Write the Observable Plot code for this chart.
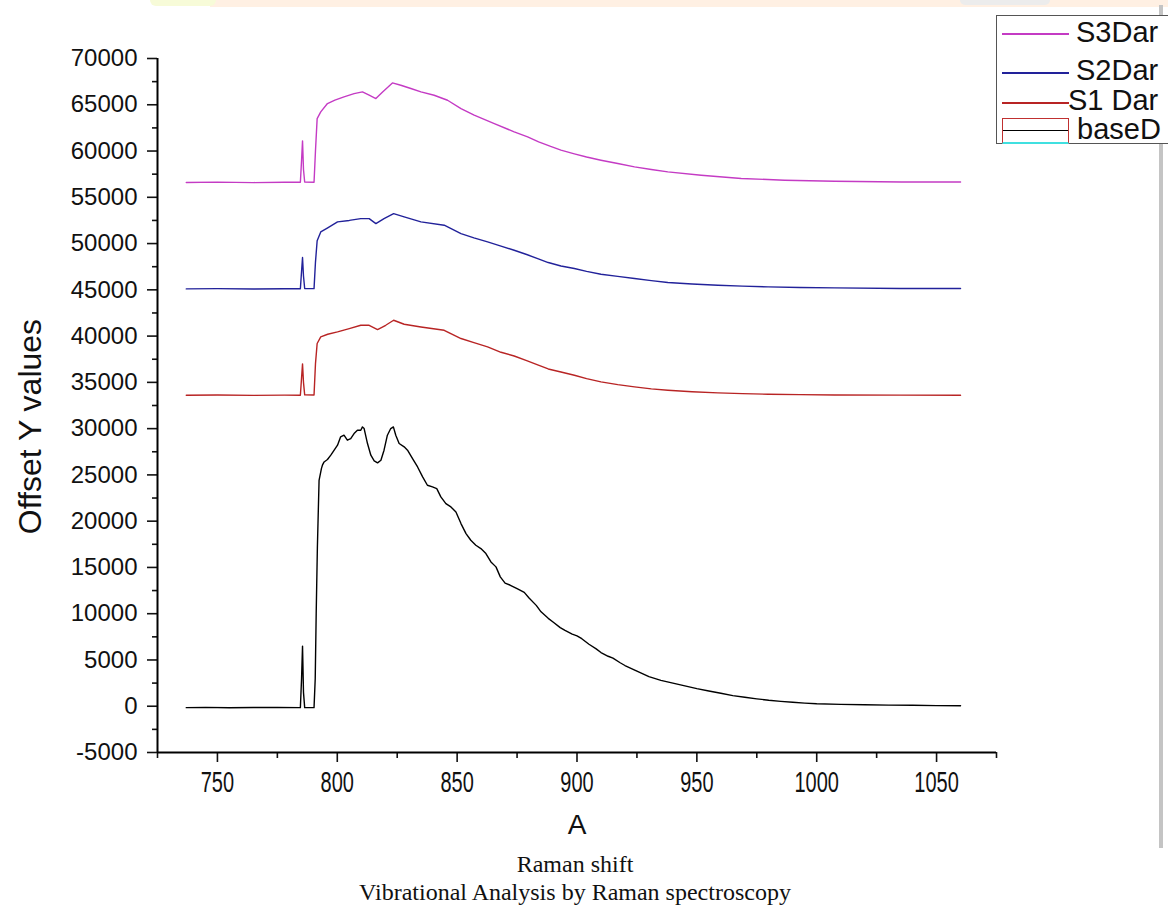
<!DOCTYPE html>
<html>
<head>
<meta charset="utf-8">
<script src="https://cdn.jsdelivr.net/npm/d3@7"></script>
<script src="https://cdn.jsdelivr.net/npm/@observablehq/plot@0.6"></script>
<style>
  html, body { margin: 0; padding: 0; background: #fff; overflow: hidden; }
  #wrap { position: relative; width: 1168px; height: 912px; overflow: hidden; background: #fff; }
  #chart { position: absolute; left: 0; top: 0; }
  #topband { position: absolute; left: 210px; top: 0; width: 958px; height: 7px; background: #fff0e3; }
  #topblob { position: absolute; left: 150px; top: 0; width: 66px; height: 6px; background: #f7fbd8; border-radius: 0 0 30px 30px; }
  #topgray { position: absolute; left: 960px; top: 0; width: 90px; height: 5px; background: #ececec; border-radius: 0 0 40px 40px; }
  #sidebar { position: absolute; left: 1159px; top: 5px; width: 4px; height: 843px; background: #c4c4c4; }
  #legend { position: absolute; left: 996px; top: 15px; width: 200px; height: 127px; border-left: 1px solid #555; border-top: 1px solid #555; border-bottom: 1px solid #555; background: #fff; font-family: "Liberation Sans", Arial, sans-serif; font-size: 29px; color: #111; }
  .lline { position: absolute; left: 5px; width: 67px; height: 1.5px; }
  .ltext { position: absolute; white-space: nowrap; line-height: 29px; }
  #captions { position: absolute; left: 0; top: 850px; width: 1150px; text-align: center; font-family: "Liberation Serif", "DejaVu Serif", serif; font-size: 24px; line-height: 28px; color: #111; }
</style>
</head>
<body>
<div id="wrap">
  <div id="topband"></div>
  <div id="topblob"></div>
  <div id="topgray"></div>
  <div id="sidebar"></div>
  <div id="chart"></div>
  <div id="legend"></div>
  <div id="captions"><div>Raman shift</div><div>Vibrational Analysis by Raman spectroscopy</div></div>
</div>
<script>
// ---- Data ----
const seriesNames = ["S3Dar", "S2Dar", "S1 Dar", "baseD"];
const seriesColors = ["#c43bc4", "#22229a", "#b82424", "#000000"];

const baseX = [737, 745, 755, 765, 775, 784.6, 785.1, 785.5, 785.9, 786.4, 790.3, 790.8, 791.2, 791.7, 792.4, 793.4, 793.8, 794.5, 795.9, 797.3, 798.7, 800.1, 801.4, 802.8, 804.2, 805.6, 807.0, 808.4, 809.8, 810.5, 811.2, 812.6, 814.0, 815.4, 816.8, 818.2, 819.5, 820.9, 822.3, 823.4, 824.4, 825.8, 827.9, 829.3, 831.4, 833.5, 835.6, 837.6, 839.7, 841.5, 843.2, 845.3, 847.4, 849.5, 851.6, 853.7, 855.7, 857.8, 859.9, 862.0, 864.1, 866.2, 868.0, 870, 872, 875, 878, 880, 883, 885, 888, 890, 893, 895, 898, 900, 902, 905, 908, 910, 913, 915, 918, 920, 925, 930, 935, 940, 945, 950, 955, 960, 965, 970, 975, 980, 985, 990, 995, 1000, 1010, 1020, 1030, 1040, 1050, 1060];
const baseY = [-150, -120, -160, -130, -140, -150, 3000, 6500, 1500, -150, -150, 3000, 10000, 17200, 24400, 25700, 26050, 26400, 26660, 27130, 27670, 28210, 29110, 29290, 28750, 28930, 29470, 29830, 29830, 30190, 30010, 28390, 27130, 26510, 26300, 26590, 27670, 29290, 30010, 30190, 29290, 28390, 28030, 27670, 26770, 25860, 24780, 23880, 23700, 23520, 22620, 21900, 21540, 21000, 19740, 18660, 17940, 17400, 17040, 16500, 15600, 15060, 13980, 13300, 13100, 12700, 12300, 11700, 10900, 10200, 9500, 9100, 8500, 8200, 7800, 7600, 7300, 6700, 6200, 5800, 5400, 5200, 4700, 4400, 3800, 3200, 2800, 2500, 2200, 1900, 1650, 1400, 1150, 970, 800, 650, 530, 430, 340, 270, 200, 160, 120, 100, 70, 50];

const s1X = [737, 750, 765, 778, 784.6, 785.1, 785.5, 785.9, 786.4, 790.3, 790.9, 791.6, 793.1, 796, 800.1, 805, 809.8, 813.3, 816.8, 820.2, 823.5, 827.9, 834.9, 844.6, 851.6, 857, 862.7, 868.3, 873.8, 879, 883.6, 888, 893.3, 898.9, 904, 910, 917, 924, 931, 937.9, 948, 958.8, 969, 979.7, 993, 1007.5, 1035, 1060];
const s1Y = [33600, 33630, 33590, 33620, 33610, 35500, 37000, 35000, 33650, 33640, 37000, 39200, 39910, 40200, 40450, 40800, 41170, 41170, 40710, 41170, 41710, 41280, 40990, 40630, 39740, 39300, 38830, 38250, 37850, 37350, 36900, 36450, 36120, 35770, 35400, 35050, 34750, 34510, 34300, 34150, 33980, 33860, 33780, 33720, 33670, 33640, 33620, 33610];

const s2X = [737, 750, 765, 778, 784.6, 785.1, 785.5, 785.9, 786.4, 790.3, 790.9, 791.6, 793.1, 796, 800.1, 805, 809.8, 813.3, 816.1, 819.5, 823.5, 827.9, 834.9, 844.6, 851.6, 857, 862.7, 868.3, 873.8, 879, 883.6, 888, 893.3, 898.9, 904, 910, 917, 924, 931, 937.9, 948, 958.8, 969, 979.7, 993, 1007.5, 1035, 1060];
const s2Y = [45100, 45130, 45090, 45120, 45110, 47000, 48500, 46500, 45140, 45130, 48000, 50300, 51260, 51700, 52340, 52500, 52700, 52700, 52160, 52700, 53240, 52880, 52340, 51980, 51080, 50620, 50180, 49720, 49280, 48820, 48380, 47950, 47580, 47300, 47000, 46690, 46450, 46220, 46000, 45790, 45630, 45500, 45400, 45320, 45260, 45210, 45150, 45140];

const s3X = [737, 750, 765, 778, 784.6, 785.1, 785.5, 785.9, 786.4, 790.3, 790.9, 791.6, 793.1, 795.9, 799, 802.8, 807.0, 810.5, 813.3, 816.1, 818.9, 823.0, 826.5, 830.7, 834.9, 840.4, 846.0, 851.6, 857.1, 865.5, 873.8, 879.4, 884, 889, 893.3, 898.9, 904, 910, 917, 924, 931, 937.9, 951.8, 968.5, 986.6, 1007.5, 1035.4, 1060];
const s3Y = [56600, 56640, 56590, 56630, 56620, 59000, 61100, 58000, 56650, 56620, 60000, 63500, 64230, 65130, 65500, 65850, 66210, 66390, 66030, 65670, 66390, 67360, 67110, 66760, 66390, 66030, 65490, 64590, 63870, 62970, 62070, 61530, 61000, 60500, 60100, 59700, 59350, 59010, 58650, 58290, 58000, 57750, 57390, 57030, 56850, 56740, 56660, 56660];

const xTicks = [750, 800, 850, 900, 950, 1000, 1050];
const xMinor = [725, 775, 825, 875, 925, 975, 1025, 1075];
const yTicks = [-5000, 0, 5000, 10000, 15000, 20000, 25000, 30000, 35000, 40000, 45000, 50000, 55000, 60000, 65000, 70000];
const yMinor = [-2500, 2500, 7500, 12500, 17500, 22500, 27500, 32500, 37500, 42500, 47500, 52500, 57500, 62500, 67500];

const xLabel = "A";
const yLabel = "Offset Y values";

// ---- Build rows ----
const seriesData = [
  [seriesNames[3], baseX, baseY],
  [seriesNames[2], s1X, s1Y],
  [seriesNames[1], s2X, s2Y],
  [seriesNames[0], s3X, s3Y]
];
const rows = [];
for (const [name, xs, ys] of seriesData) {
  xs.forEach((x, i) => rows.push({series: name, x, y: ys[i]}));
}

const sans = "'Liberation Sans', Arial, sans-serif";

const chart = Plot.plot({
  width: 1168,
  height: 848,
  marginLeft: 157,
  marginRight: 172,
  marginTop: 58,
  marginBottom: 96,
  x: {domain: [725, 1075]},
  y: {domain: [-5000, 70000]},
  color: {domain: seriesNames, range: seriesColors},
  style: {fontFamily: sans, background: "transparent", color: "#111", overflow: "visible"},
  marks: [
    Plot.axisY(yTicks, {tickSize: 10, tickPadding: 10, fontSize: 24, fontFamily: sans, label: null, tickFormat: d => String(d), strokeWidth: 1.6}),
    Plot.axisY(yMinor, {tickSize: 5, text: null, label: null, strokeWidth: 1.6}),
    Plot.axisX(xTicks, {tickSize: 10, tickPadding: 8, fontSize: 25, fontFamily: sans, label: null, tickFormat: d => String(d), strokeWidth: 1.6}),
    Plot.axisX(xMinor, {tickSize: 6, text: null, label: null, strokeWidth: 1.6}),
    Plot.ruleX([725], {stroke: "#000", strokeWidth: 2}),
    Plot.ruleY([-5000], {stroke: "#000", strokeWidth: 2}),
    Plot.line(rows, {x: "x", y: "y", z: "series", stroke: "series", strokeWidth: 1.4, curve: "linear"}),
    Plot.text([yLabel], {frameAnchor: "left", textAnchor: "middle", lineAnchor: "middle", rotate: -90, dx: -127, dy: 21, fontSize: 32, fontFamily: sans, fill: "#111"}),
    Plot.text([xLabel], {frameAnchor: "bottom", textAnchor: "middle", lineAnchor: "middle", dy: 73, fontSize: 28, fontFamily: sans, fill: "#111", ariaLabel: "x-title"})
  ]
});
document.getElementById("chart").appendChild(chart);

// narrow, tall look of the bottom-axis texts
d3.select(chart).selectAll('g[aria-label="x-axis tick label"] text').each(function() {
  const t = d3.select(this);
  t.attr("transform", (t.attr("transform") || "") + " scale(0.8,1.2)");
});
d3.select(chart).selectAll('g[aria-label="x-title"] text').each(function() {
  const t = d3.select(this);
  t.attr("transform", (t.attr("transform") || "") + " scale(0.85,1.25)");
});

// ---- Legend (Origin style) ----
const legend = document.getElementById("legend");
const rowLineTop = [17, 56, 86];      // relative to legend box
const rowTextTop = [2, 40, 70];
const rowTextLeft = [79, 79, 71];
for (let i = 0; i < 3; i++) {
  const ln = document.createElement("div");
  ln.className = "lline";
  ln.style.top = rowLineTop[i] + "px";
  ln.style.background = seriesColors[i];
  legend.appendChild(ln);
  const tx = document.createElement("div");
  tx.className = "ltext";
  tx.style.top = rowTextTop[i] + "px";
  tx.style.left = rowTextLeft[i] + "px";
  tx.textContent = seriesNames[i];
  legend.appendChild(tx);
}
// last entry: box swatch with line
const box = document.createElement("div");
box.style.cssText = "position:absolute;left:5px;top:102px;width:67px;height:26px;border:1px solid #c03030;border-bottom:2px solid #40e0e0;box-sizing:border-box;";
const inner = document.createElement("div");
inner.style.cssText = "position:absolute;left:0;right:0;top:11px;height:1px;background:" + seriesColors[3] + ";";
box.appendChild(inner);
legend.appendChild(box);
const tx4 = document.createElement("div");
tx4.className = "ltext";
tx4.style.top = "99px";
tx4.style.left = "80px";
tx4.textContent = seriesNames[3];
legend.appendChild(tx4);
</script>
</body>
</html>
